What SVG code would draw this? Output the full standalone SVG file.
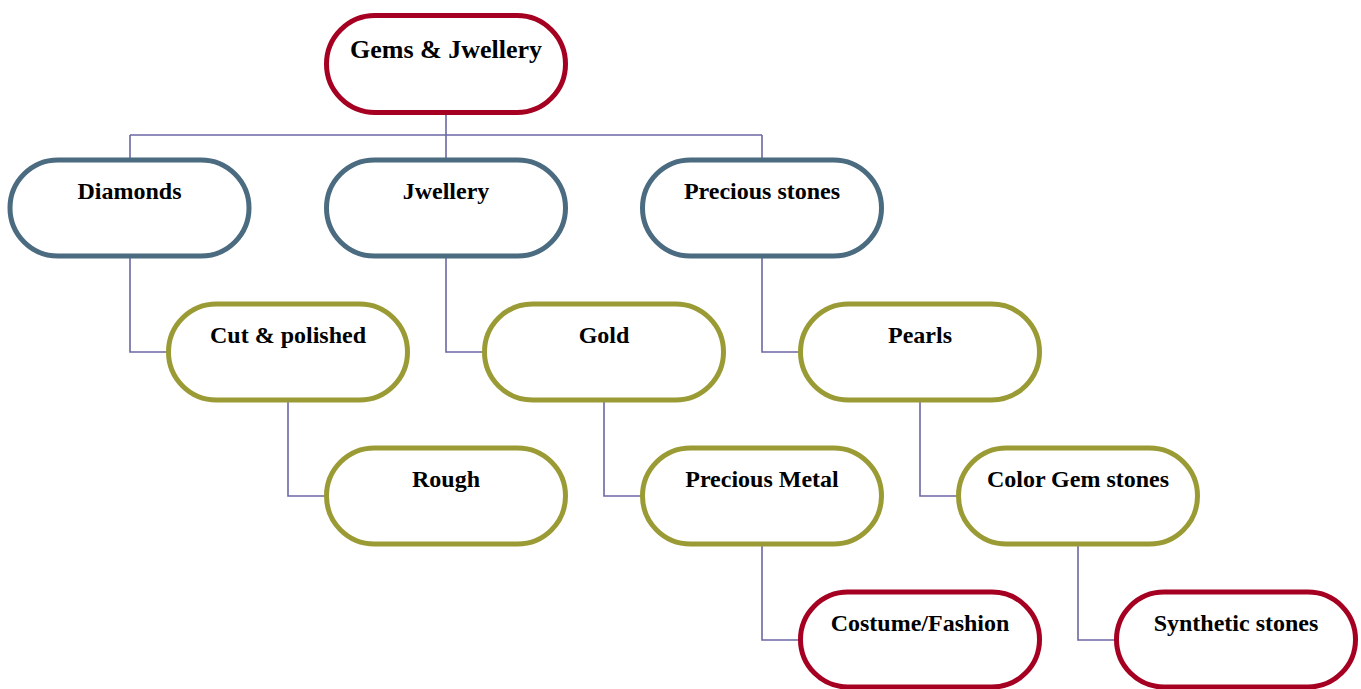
<svg xmlns="http://www.w3.org/2000/svg" width="1361" height="689" viewBox="0 0 1361 689">
<style>
.box{fill:#fff;stroke-width:5}
.red{stroke:#a50021}
.blue{stroke:#4b6b80}
.olive{stroke:#9b9b36}
.t{font-family:"Liberation Serif","Times New Roman",serif;font-weight:bold;font-size:24px;text-anchor:middle;fill:#000}
.conn{fill:none;stroke:#6b67a6;stroke-width:1.6}
</style>
<rect width="1361" height="689" fill="#fff"/>
<g id="connectors" class="conn">
<path d="M446 112 V135 M130 135 H762 M130 135 V160 M446 135 V160 M762 135 V160"/>
<path d="M130 256 V352 H168"/>
<path d="M446 256 V352 H484"/>
<path d="M762 256 V352 H800"/>
<path d="M288 400 V496 H326"/>
<path d="M604 400 V496 H642"/>
<path d="M920 400 V496 H958"/>
<path d="M762 544 V640 H800"/>
<path d="M1078 544 V640 H1116"/>
</g>
<g id="root"><rect class="box red" x="326.5" y="15.5" width="239" height="97" rx="48.5"/><text class="t" x="446" y="58" style="font-size:26px">Gems &amp; Jwellery</text></g>
<g id="diamonds"><rect class="box blue" x="10" y="160" width="239" height="96" rx="48"/><text class="t" x="129.5" y="199">Diamonds</text></g>
<g id="jwellery"><rect class="box blue" x="326.5" y="160" width="239" height="96" rx="48"/><text class="t" x="446" y="199">Jwellery</text></g>
<g id="precious-stones"><rect class="box blue" x="642.5" y="160" width="239" height="96" rx="48"/><text class="t" x="762" y="199">Precious stones</text></g>
<g id="cut-polished"><rect class="box olive" x="168.5" y="304" width="239" height="96" rx="48"/><text class="t" x="288" y="343">Cut &amp; polished</text></g>
<g id="gold"><rect class="box olive" x="484.5" y="304" width="239" height="96" rx="48"/><text class="t" x="604" y="343">Gold</text></g>
<g id="pearls"><rect class="box olive" x="800.5" y="304" width="239" height="96" rx="48"/><text class="t" x="920" y="343">Pearls</text></g>
<g id="rough"><rect class="box olive" x="326.5" y="448" width="239" height="96" rx="48"/><text class="t" x="446" y="487">Rough</text></g>
<g id="precious-metal"><rect class="box olive" x="642.5" y="448" width="239" height="96" rx="48"/><text class="t" x="762" y="487">Precious Metal</text></g>
<g id="color-gem-stones"><rect class="box olive" x="958.5" y="448" width="239" height="96" rx="48"/><text class="t" x="1078" y="487">Color Gem stones</text></g>
<g id="costume-fashion"><rect class="box red" x="800.5" y="592" width="239" height="95" rx="47.5"/><text class="t" x="920" y="631">Costume/Fashion</text></g>
<g id="synthetic-stones"><rect class="box red" x="1116.5" y="592" width="239" height="95" rx="47.5"/><text class="t" x="1236" y="631">Synthetic stones</text></g>
</svg>
